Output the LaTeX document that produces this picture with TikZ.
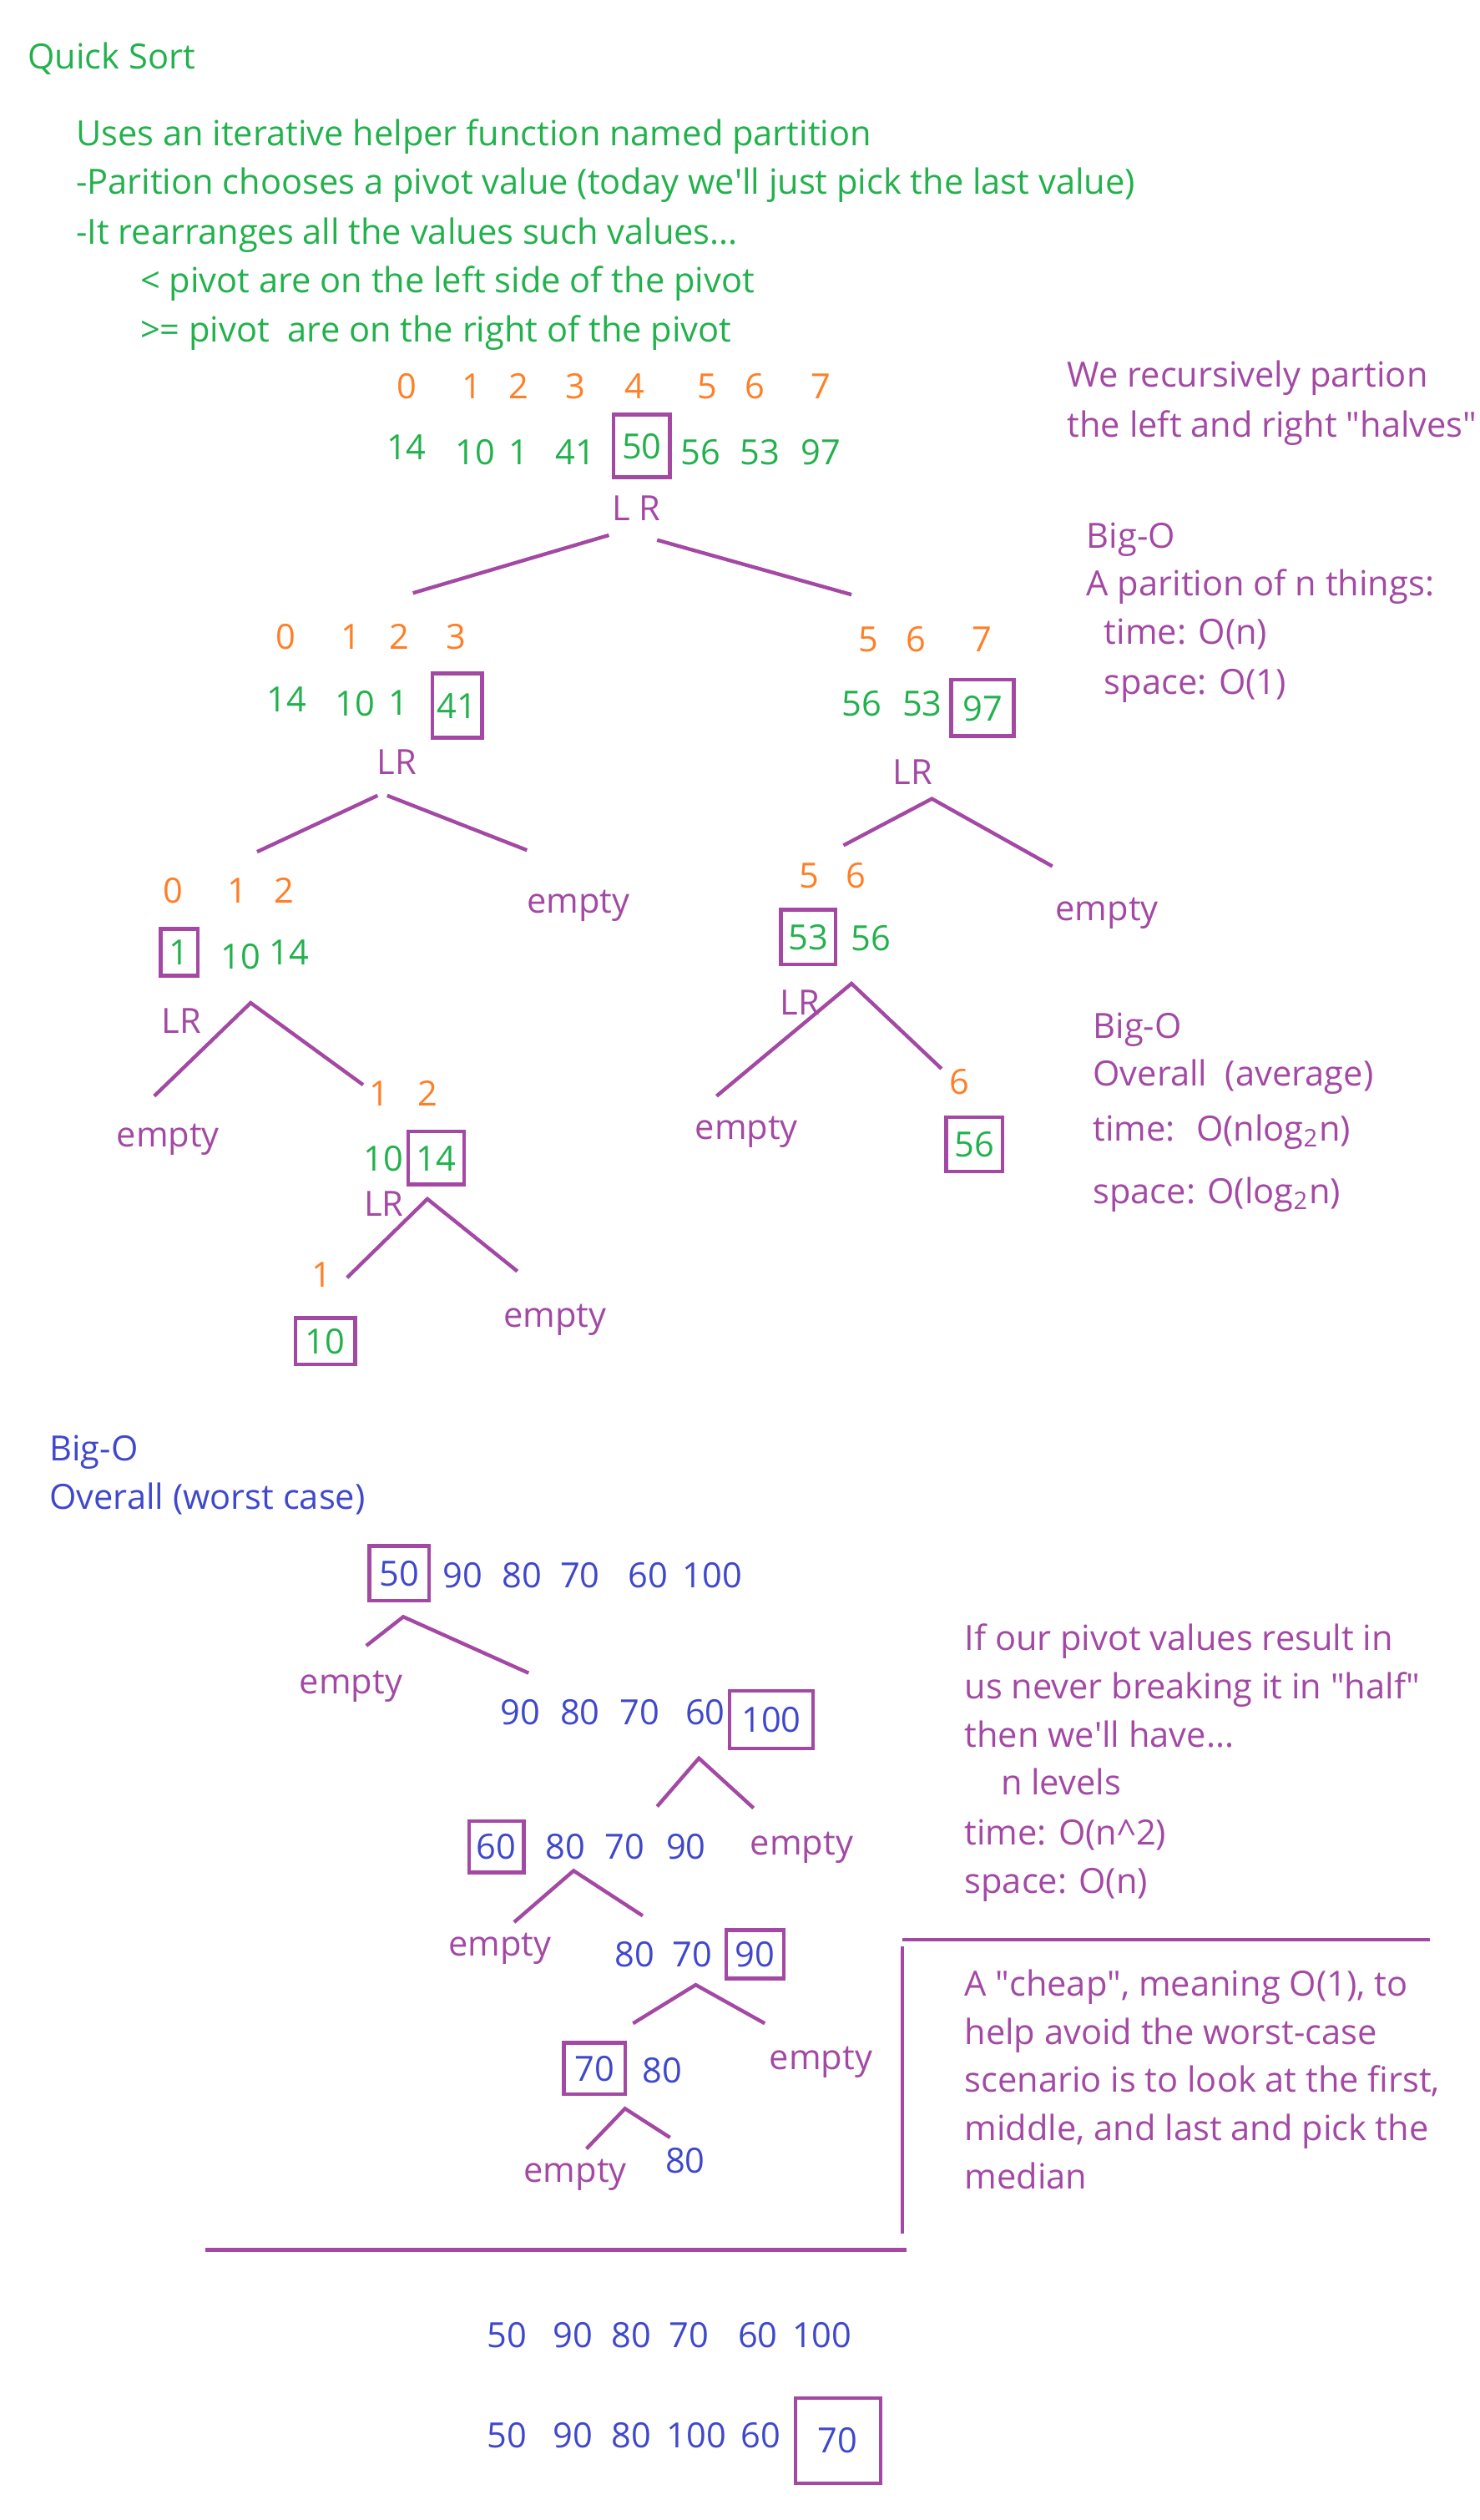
\documentclass[tikz,border=0pt]{standalone}
\usepackage{fontspec}
\setmainfont{Open Sans}
\usepackage{xcolor}
\usepackage{tikz}

\definecolor{qsgreen}{RGB}{34,177,76}
\definecolor{qsorange}{RGB}{255,127,39}
\definecolor{qspurple}{RGB}{163,73,164}
\definecolor{qsblue}{RGB}{63,72,204}

\tikzset{
  txt/.style={inner sep=0pt, text height=9pt, text depth=0pt, font=\fontsize{12.3}{14}\selectfont},
  line/.style={anchor=west},
  grn/.style={txt, text=qsgreen},
  org/.style={txt, text=qsorange},
  pur/.style={txt, text=qspurple},
  blu/.style={txt, text=qsblue},
  pivotbox/.style 2 args={draw=qspurple, line width=1.3pt, minimum width=#1*0.02cm, minimum height=#2*0.02cm},
  branch/.style={draw=qspurple, line width=1.3pt},
}

\begin{document}
\begin{tikzpicture}[x=0.02cm, y=-0.02cm]
    \useasboundingbox (0,0) rectangle (921,1568);

    % Intro
    \node[grn, line] (title) at (17,35) {Quick Sort};
    \node[grn, line] (intro1) at (47,83) {Uses an iterative helper function named partition};
    \node[grn, line] (intro2) at (47,113) {-Parition chooses a pivot value (today we\textquotesingle ll just pick the last value)};
    \node[grn, line] (intro3) at (47,144) {-It rearranges all the values such values...};
    \node[grn, line] (intro4) at (87,174) {< pivot are on the left side of the pivot};
    \node[grn, line] (intro5) at (87,205) {>= pivot~ are on the right of the pivot};

    % Full array
    \node[org] (i0) at (253,240) {0};
    \node[org] (i1) at (294,240) {1};
    \node[org] (i2) at (323,240) {2};
    \node[org] (i3) at (358,240) {3};
    \node[org] (i4) at (395,240) {4};
    \node[org] (i5) at (440,240) {5};
    \node[org] (i6) at (470,240) {6};
    \node[org] (i7) at (511,240) {7};
    \node[grn] (v0) at (253,278) {14};
    \node[grn] (v1) at (296,281) {10};
    \node[grn] (v2) at (323,281) {1};
    \node[grn] (v3) at (358,281) {41};
    \node[grn, pivotbox={35}{39}] (v4) at (399.5,277.5) {50};
    \node[grn] (v5) at (436,281) {56};
    \node[grn] (v6) at (473,281) {53};
    \node[grn] (v7) at (511,281) {97};
    \node[pur] (lr0) at (396,316) {L R};
    \coordinate (b0l) at (379,333); \coordinate (b0la) at (257,369);
    \coordinate (b0r) at (409,336); \coordinate (b0ra) at (530,370);
    \draw[branch] (b0l) -- (b0la);
    \draw[branch] (b0r) -- (b0ra);

    % Notes on the right
    \node[pur, line] (rec1) at (664,233) {We recursively partion};
    \node[pur, line] (rec2) at (664,264) {the left and right \textquotedbl halves\textquotedbl};
    \node[pur, line] (bigo1) at (676,333) {Big-O};
    \node[pur, line] (part1) at (676,363) {A parition of n things:};
    \node[pur, line] (part2) at (687,393) {time: O(n)};
    \node[pur, line] (part3) at (687,424) {space: O(1)};

    % Left half
    \node[org] (li0) at (178,396) {0};
    \node[org] (li1) at (218.5,396) {1};
    \node[org] (li2) at (248.5,396) {2};
    \node[org] (li3) at (283.7,396) {3};
    \node[grn] (lv0) at (178.6,435) {14};
    \node[grn] (lv1) at (221,437.6) {10};
    \node[grn] (lv2) at (248,437) {1};
    \node[grn, pivotbox={31}{40}] (lv3) at (284.5,439) {41};
    \node[pur] (lr1) at (247,474) {LR};
    \coordinate (b1l) at (235,495); \coordinate (b1la) at (160,530);
    \coordinate (b1r) at (241,495); \coordinate (b1ra) at (328,529);
    \draw[branch] (b1l) -- (b1la);
    \draw[branch] (b1r) -- (b1ra);
    \node[pur] (e1) at (360,560) {empty};

    % Right half
    \node[org] (ri5) at (540.4,397.5) {5};
    \node[org] (ri6) at (570,397.5) {6};
    \node[org] (ri7) at (611,397.5) {7};
    \node[grn] (rv5) at (536.3,437.6) {56};
    \node[grn] (rv6) at (574,437.6) {53};
    \node[grn, pivotbox={39}{35}] (rv7) at (611.5,440.5) {97};
    \node[pur] (lr2) at (568,480) {LR};
    \coordinate (b2) at (580,497);
    \coordinate (b2la) at (525,526); \coordinate (b2ra) at (655,539);
    \draw[branch] (b2la) -- (b2) -- (b2ra);

    % 0..2
    \node[org] (ai0) at (107.5,554) {0};
    \node[org] (ai1) at (148,554) {1};
    \node[org] (ai2) at (177,554) {2};
    \node[grn, pivotbox={23}{29}] (av0) at (111.5,592.5) {1};
    \node[grn] (av1) at (150,595) {10};
    \node[grn] (av2) at (180,592.5) {14};
    \node[pur] (lr3) at (113,635) {LR};
    \coordinate (b3) at (156,624);
    \coordinate (b3la) at (96,682); \coordinate (b3ra) at (226,675);
    \draw[branch] (b3la) -- (b3) -- (b3ra);
    \node[pur] (e2) at (104.6,705.6) {empty};

    % 1..2
    \node[org] (ci1) at (236,680) {1};
    \node[org] (ci2) at (266,680) {2};
    \node[grn] (cv1) at (238.5,721) {10};
    \node[grn, pivotbox={35}{33}] (cv2) at (271.5,720.5) {14};
    \node[pur] (lr4) at (239,749) {LR};
    \coordinate (b4) at (266,746);
    \coordinate (b4la) at (216,795); \coordinate (b4ra) at (322,791);
    \draw[branch] (b4la) -- (b4) -- (b4ra);
    \node[org] (di1) at (200,793) {1};
    \node[grn, pivotbox={37}{29}] (dv1) at (202.5,834.5) {10};
    \node[pur] (e3) at (345.4,818) {empty};

    % 5..6
    \node[org] (fi5) at (503.4,544.4) {5};
    \node[org] (fi6) at (532.8,544.4) {6};
    \node[grn, pivotbox={34}{34}] (fv5) at (503,583) {53};
    \node[grn] (fv6) at (542,583.4) {56};
    \node[pur] (e4) at (689,565) {empty};
    \node[pur] (lr5) at (498,623.5) {LR};
    \coordinate (b5) at (530,612);
    \coordinate (b5la) at (446,682); \coordinate (b5ra) at (586,665);
    \draw[branch] (b5la) -- (b5) -- (b5ra);
    \node[pur] (e5) at (464.6,701) {empty};
    \node[org] (gi6) at (597,673) {6};
    \node[grn, pivotbox={35}{34}] (gv6) at (606.5,712) {56};

    % Average case
    \node[pur, line] (bigo2) at (680,638) {Big-O};
    \node[pur, line] (avg1) at (680,668) {Overall~ (average)};
    \node[pur, line] (avg2) at (680,702) {time:~ O(nlog\textsubscript{2}n)};
    \node[pur, line] (avg3) at (680,741) {space: O(log\textsubscript{2}n)};

    % Worst case
    \node[blu, line] (bigo3) at (30.5,901) {Big-O};
    \node[blu, line] (worst) at (30.5,931) {Overall (worst case)};

    \node[blu, pivotbox={37}{34}] (w0) at (248.5,979) {50};
    \node[blu] (w1) at (288,980) {90};
    \node[blu] (w2) at (325,980) {80};
    \node[blu] (w3) at (361,980) {70};
    \node[blu] (w4) at (403.5,980) {60};
    \node[blu] (w5) at (443.5,980) {100};
    \coordinate (b6) at (251,1006);
    \coordinate (b6la) at (228,1024); \coordinate (b6ra) at (329,1041);
    \draw[branch] (b6la) -- (b6) -- (b6ra);
    \node[pur] (e6) at (218.5,1046) {empty};

    \node[blu] (x1) at (324,1065) {90};
    \node[blu] (x2) at (361,1065) {80};
    \node[blu] (x3) at (398,1065) {70};
    \node[blu] (x4) at (439,1065) {60};
    \node[blu, pivotbox={52}{36}] (x5) at (480,1070) {100};
    \coordinate (b7) at (435,1094);
    \coordinate (b7la) at (409,1124); \coordinate (b7ra) at (469,1125);
    \draw[branch] (b7la) -- (b7) -- (b7ra);

    \node[blu, pivotbox={34}{32}] (y4) at (309,1149) {60};
    \node[blu] (y2) at (352,1149) {80};
    \node[blu] (y3) at (389,1149) {70};
    \node[blu] (y1) at (427,1149) {90};
    \node[pur] (e7) at (499,1146) {empty};
    \coordinate (b8) at (357,1164);
    \coordinate (b8la) at (320,1196); \coordinate (b8ra) at (400,1192);
    \draw[branch] (b8la) -- (b8) -- (b8ra);

    \node[pur] (e8) at (311,1209) {empty};
    \node[blu] (z2) at (395,1216) {80};
    \node[blu] (z3) at (431,1216) {70};
    \node[blu, pivotbox={36}{30}] (z1) at (470,1216) {90};
    \coordinate (b9) at (433,1235);
    \coordinate (b9la) at (394,1259); \coordinate (b9ra) at (476,1259);
    \draw[branch] (b9la) -- (b9) -- (b9ra);

    \node[blu, pivotbox={38}{32}] (u3) at (370,1287) {70};
    \node[blu] (u2) at (412,1288) {80};
    \node[pur] (e9) at (511,1280) {empty};
    \coordinate (b10) at (389,1312);
    \coordinate (b10la) at (365,1337); \coordinate (b10ra) at (417,1330);
    \draw[branch] (b10la) -- (b10) -- (b10ra);
    \node[pur] (e10) at (358,1350) {empty};
    \node[blu] (t2) at (426.5,1344) {80};

    % Notes on worst case
    \node[pur, line] (wn1) at (600,1019) {If our pivot values result in};
    \node[pur, line] (wn2) at (600,1049) {us never breaking it in \textquotedbl half\textquotedbl};
    \node[pur, line] (wn3) at (600,1079) {then we\textquotesingle ll have...};
    \node[pur, line] (wn4) at (622.6,1109) {n levels};
    \node[pur, line] (wn5) at (600,1140) {time: O(n\textasciicircum 2)};
    \node[pur, line] (wn6) at (600,1170) {space: O(n)};

    % Dividers
    \coordinate (d0) at (561.5,1207); \coordinate (d1) at (890,1207);
    \coordinate (d2) at (561.5,1211); \coordinate (d3) at (561.5,1390);
    \coordinate (d4) at (128,1400); \coordinate (d5) at (564,1400);
    \draw[branch] (d0) -- (d1);
    \draw[branch] (d2) -- (d3);
    \draw[branch] (d4) -- (d5);

    % Median of three
    \node[pur, line] (mn1) at (600,1234) {A \textquotedbl cheap\textquotedbl, meaning O(1), to};
    \node[pur, line] (mn2) at (600,1264) {help avoid the worst-case};
    \node[pur, line] (mn3) at (600,1294) {scenario is to look at the first,};
    \node[pur, line] (mn4) at (600,1324) {middle, and last and pick the};
    \node[pur, line] (mn5) at (600,1354) {median};

    \node[blu] (m0) at (315.4,1453) {50};
    \node[blu] (m1) at (356.6,1453) {90};
    \node[blu] (m2) at (393,1453) {80};
    \node[blu] (m3) at (429,1453) {70};
    \node[blu] (m4) at (471.7,1453) {60};
    \node[blu] (m5) at (511.6,1453) {100};

    \node[blu] (s0) at (315.4,1515) {50};
    \node[blu] (s1) at (356.6,1515) {90};
    \node[blu] (s2) at (393,1515) {80};
    \node[blu] (s3) at (433.5,1515) {100};
    \node[blu] (s4) at (473.5,1515) {60};
    \node[blu, pivotbox={53}{53}] (s5) at (521.5,1518.5) {70};
\end{tikzpicture}
\end{document}
